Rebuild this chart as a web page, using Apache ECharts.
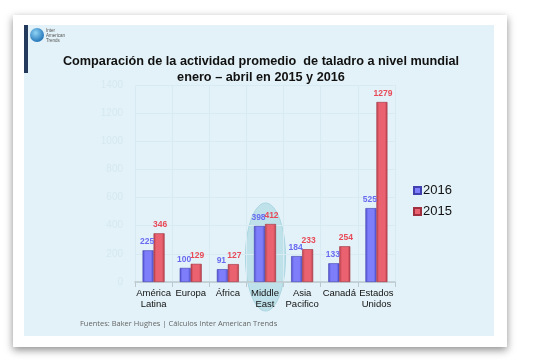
<!DOCTYPE html>
<html><head><meta charset="utf-8">
<script src="https://cdn.jsdelivr.net/npm/echarts@6/dist/echarts.min.js"></script>
<style>html,body{margin:0;padding:0;background:#fff}#c{width:554px;height:364px}</style>
</head><body><div id="c"></div>
<script>
const categories = ['América\nLatina', 'Europa', 'África', 'Middle\nEast', 'Asia\nPacifico', 'Canadá', 'Estados\nUnidos'];
const values2016 = [225, 100, 91, 398, 184, 133, 525];
const values2015 = [346, 129, 127, 412, 233, 254, 1279];
const yTicks = [0, 200, 400, 600, 800, 1000, 1200, 1400];

const chart = echarts.init(document.getElementById('c'));
function grad(edge, mid) {
  return new echarts.graphic.LinearGradient(0, 0, 1, 0, [
    {offset: 0, color: edge}, {offset: 0.25, color: mid}, {offset: 0.75, color: mid}, {offset: 1, color: edge}
  ]);
}
const lblFont = 'Liberation Sans Narrow, Arial Narrow, sans-serif';
chart.setOption({
  animation: false,
  graphic: [
    {type: 'rect', z: -10, shape: {x: 13, y: 15, width: 494, height: 332}, style: {fill: '#fff', shadowBlur: 8, shadowColor: 'rgba(0,0,0,0.45)', shadowOffsetY: 3}},
    {type: 'rect', z: -9, shape: {x: 24, y: 25, width: 470, height: 311}, style: {fill: '#e3f2f8'}},
    {type: 'rect', z: -8, shape: {x: 24, y: 25, width: 4, height: 48}, style: {fill: '#233a5c'}},
    {type: 'circle', z: -7, shape: {cx: 37, cy: 35, r: 7}, style: {fill: new echarts.graphic.RadialGradient(0.4, 0.35, 0.7, [{offset: 0, color: '#8fd4f5'}, {offset: 1, color: '#1d6fb5'}])}},
    {type: 'text', z: -7, left: 46, top: 28, style: {text: 'Inter\nAmerican\nTrends', fontSize: 4.5, lineHeight: 5, fill: '#555', fontFamily: 'Liberation Sans, Arial, sans-serif'}},
    {type: 'ellipse', z: -5, shape: {cx: 265.5, cy: 257, rx: 20, ry: 54}, style: {fill: '#bfe2ea', stroke: '#a9d6e1', lineWidth: 1}},
    {type: 'text', z: 5, x: 261, y: 53, style: {text: 'Comparación de la actividad promedio  de taladro a nivel mundial\nenero – abril en 2015 y 2016', align: 'center', fontSize: 12.7, lineHeight: 16, fontWeight: 'bold', fill: '#111', fontFamily: 'Liberation Sans, Arial, sans-serif'}},
    {type: 'text', z: 5, left: 80, top: 320, style: {text: 'Fuentes: Baker Hughes | Cálculos Inter American Trends', fontSize: 7.5, fill: '#666', fontFamily: 'Open Sans, Liberation Sans, sans-serif'}}
  ],
  legend: {
    orient: 'vertical', left: 408, top: 179, itemWidth: 7, itemHeight: 7, itemGap: 8,
    icon: 'rect',
    textStyle: {fontFamily: 'Liberation Sans, Arial, sans-serif', fontSize: 13, color: '#111', padding: [0, 0, 0, -3]},
    data: ['2016', '2015']
  },
  grid: {left: 135, right: 159, top: 85, bottom: 82},
  xAxis: {
    type: 'category', data: categories,
    axisLine: {lineStyle: {color: '#bcc8cc', width: 1.5}},
    axisTick: {show: true, lineStyle: {color: '#bcc8cc'}},
    splitLine: {show: true, lineStyle: {color: '#d8ebf2'}},
    axisLabel: {interval: 0, fontFamily: 'Liberation Sans, Arial, sans-serif', fontSize: 9.5, color: '#111', lineHeight: 11, margin: 6}
  },
  yAxis: {
    type: 'value', min: yTicks[0], max: yTicks[yTicks.length - 1], interval: 200,
    axisLine: {show: false}, axisTick: {show: false},
    splitLine: {lineStyle: {color: '#d8ebf2'}},
    axisLabel: {fontFamily: 'Liberation Sans, Arial, sans-serif', fontSize: 10, color: '#d6e9f0', margin: 12, formatter: v => String(v)}
  },
  series: [
    {
      name: '2016', type: 'bar', data: values2016, barWidth: 11, barGap: '0%',
      itemStyle: {color: grad('#4f4fcf', '#7e7efa'), borderColor: '#4040b0', borderWidth: 0.6},
      label: {show: true, position: 'top', distance: 4, offset: [-1, 0], color: '#6a6af0', fontWeight: 'bold', fontSize: 8.5, fontFamily: lblFont}
    },
    {
      name: '2015', type: 'bar', data: values2015, barWidth: 11,
      itemStyle: {color: grad('#b8404c', '#ea6270'), borderColor: '#a03040', borderWidth: 0.6},
      label: {show: true, position: 'top', distance: 4, offset: [1, 0], color: '#e84a58', fontWeight: 'bold', fontSize: 8.5, fontFamily: lblFont}
    }
  ]
});
</script></body></html>
